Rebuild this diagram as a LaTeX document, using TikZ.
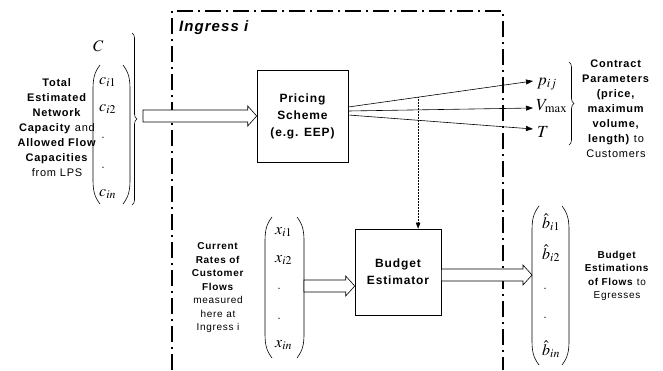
\documentclass[tikz,border=0pt]{standalone}
\usepackage{mathptmx}
\usepackage[no-math]{fontspec}
\newfontfamily\lab{Liberation Sans}[LetterSpace=7]
\usetikzlibrary{arrows.meta,calc,decorations.pathreplacing}
\newcommand\drawparens[4]{% xL xR top bot
  \draw[paren] (#1+7,#3) .. controls (#1+1,#3+8) and (#1,#3+14) .. (#1,#3+25) -- (#1,#4-25) .. controls (#1,#4-14) and (#1+1,#4-8) .. (#1+7,#4);
  \draw[paren] (#2-7,#3) .. controls (#2-1,#3+8) and (#2,#3+14) .. (#2,#3+25) -- (#2,#4-25) .. controls (#2,#4-14) and (#2-1,#4-8) .. (#2-7,#4);
}
\newcommand\hollowarrow[2]{%
  \draw[hollow] ($(#1)+(0,-6)$) -- ($(#2)+(-9,-6)$) -- ($(#2)+(-9,-10)$) -- (#2) -- ($(#2)+(-9,10)$) -- ($(#2)+(-9,6)$) -- ($(#1)+(0,6)$) -- cycle;
}
\begin{document}
\begin{tikzpicture}[x=1pt,y=-1pt,
  box/.style={draw, line width=0.6pt, align=center, inner sep=0pt,
    font=\lab\bfseries\fontsize{12}{17}\selectfont},
  biglbl/.style={align=center, inner sep=0pt, font=\lab\fontsize{11}{15}\selectfont},
  smalllbl/.style={align=center, inner sep=0pt, font=\lab\fontsize{10}{13.5}\selectfont},
  mth/.style={inner sep=0pt, anchor=base west, font=\fontsize{16}{16}\selectfont},
  frame/.style={line width=1.6pt, dash pattern=on 16pt off 5pt on 2pt off 5pt},
  hollow/.style={line width=0.6pt, fill=white},
  paren/.style={line width=0.6pt},
  outarrow/.style={line width=0.6pt, -{Triangle[length=7pt,width=5pt]}},
  dotarrow/.style={line width=0.5pt, densely dotted, -{Triangle[length=6pt,width=4.5pt]}},
  bracestyle/.style={line width=0.6pt, decorate, decoration={brace, amplitude=5pt}}
]
\useasboundingbox (0,0) rectangle (663,370);

% ingress frame
\draw[frame] (172,370) -- (172,11) -- (503,11) -- (503,370);
\node[anchor=base west, inner sep=0pt, font=\lab\bfseries\itshape\fontsize{15}{15}\selectfont] (ingress) at (179,31) {Ingress i};

% boxes
\node[box, minimum width=91pt, minimum height=92pt] (pricing) at (302.5,116) {Pricing\\Scheme\\(e.g. EEP)};
\node[box, minimum width=86pt, minimum height=86pt] (budget) at (398,272) {Budget\\Estimator};

% left capacity vector
\node[mth] (C) at (93,51) {$C$};
\node[mth] (c1) at (99,84) {$c_{i1}$};
\node[mth] (c2) at (99,111) {$c_{i2}$};
\node[mth] (cd1) at (101,138) {.};
\node[mth] (cd2) at (101,168) {.};
\node[mth] (cn) at (99,196) {$c_{in}$};
\drawparens{93}{130}{65}{204}
\draw[bracestyle] (132,33) -- (132,205);
\node[biglbl] (lblcap) at (57,128) {\textbf{Total}\\\textbf{Estimated}\\\textbf{Network}\\\textbf{Capacity} and\\\textbf{Allowed Flow}\\\textbf{Capacities}\\from LPS};

\coordinate (s1) at (143,116);
\hollowarrow{s1}{pricing.west}

% outputs of pricing
\coordinate (o1) at ($(pricing.east)+(0,-9)$);
\coordinate (o2) at ($(pricing.east)+(0,-5)$);
\coordinate (o3) at ($(pricing.east)+(0,-1)$);
\coordinate (t1) at (533,81);
\coordinate (t2) at (533,108);
\coordinate (t3) at (533,129);
\draw[outarrow] (o1) -- (t1);
\draw[outarrow] (o2) -- (t2);
\draw[outarrow] (o3) -- (t3);
\node[mth, font=\fontsize{17}{17}\selectfont] (p) at (537,85) {$p_{ij}$};
\node[mth, font=\fontsize{17}{17}\selectfont] (V) at (536,110) {$V_{\max}$};
\node[mth, font=\fontsize{17}{17}\selectfont] (T) at (537,137) {$T$};
\draw[bracestyle] (569,62) -- (569,145);
\node[biglbl] (lblcontract) at (616,109) {\textbf{Contract}\\\textbf{Parameters}\\\textbf{(price,}\\\textbf{maximum}\\\textbf{volume,}\\\textbf{length)} to\\Customers};

% dotted link
\path (o1) -- (t1) coordinate[pos=0.378] (dsrc);
\draw[dotarrow] (dsrc) -- (dsrc |- budget.north);

% customer flow vector
\node[mth] (x1) at (275,234) {$x_{i1}$};
\node[mth] (x2) at (275,262) {$x_{i2}$};
\node[mth] (xd1) at (277,289) {.};
\node[mth] (xd2) at (277,319) {.};
\node[mth] (xn) at (275,347) {$x_{in}$};
\drawparens{265}{304}{217}{358}
\node[smalllbl] (lblcurrent) at (218,288) {\textbf{Current}\\\textbf{Rates of}\\\textbf{Customer}\\\textbf{Flows}\\measured\\here at\\Ingress i};
\coordinate (s2) at (304,286);
\coordinate (e2) at (budget.west |- s2);
\hollowarrow{s2}{e2}

% budget outputs
\coordinate (s3) at ($(budget.east)+(0,3)$);
\coordinate (e3) at (532,275);
\hollowarrow{s3}{e3}
\node[mth] (b1) at (542,228) {$\hat{b}_{i1}$};
\node[mth] (b2) at (542,259) {$\hat{b}_{i2}$};
\node[mth] (bd1) at (543,289) {.};
\node[mth] (bd2) at (543,318) {.};
\node[mth] (bn) at (542,355) {$\hat{b}_{in}$};
\drawparens{532}{569}{206}{365}
\node[smalllbl] (lblbudget) at (617,276) {\textbf{Budget}\\\textbf{Estimations}\\\textbf{of Flows} to\\Egresses};
\end{tikzpicture}
\end{document}
